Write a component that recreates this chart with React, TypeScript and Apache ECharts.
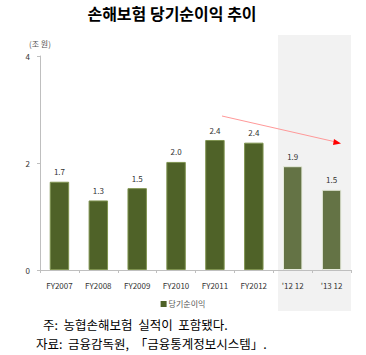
import React, { useEffect, useRef } from "react";
import * as echarts from "echarts";

const categories = ["FY2007", "FY2008", "FY2009", "FY2010", "FY2011", "FY2012", "'12 12", "'13 12"];
const profits = [1.65, 1.3, 1.53, 2.02, 2.43, 2.38, 1.94, 1.5];
const labels = ["1.7", "1.3", "1.5", "2.0", "2.4", "2.4", "1.9", "1.5"];
const darkColor = "#4F6228";
const lightColor = "#647345";

export default function App() {
  const ref = useRef<HTMLDivElement>(null);
  useEffect(() => {
    if (!ref.current) return;
    const chart = echarts.init(ref.current, undefined, { renderer: "svg" });
    const font = "'Noto Sans CJK KR', 'Noto Sans', sans-serif";
    chart.setOption({
      animation: false,
      textStyle: { fontFamily: font },
      graphic: [
        { type: "rect", z: -10, shape: { x: 278, y: 35, width: 73, height: 276 }, style: { fill: "#f2f2f2" } },
        { type: "text", x: 172, y: 4, style: { text: "손해보험 당기순이익 추이", font: `bold 16px ${font}`, fill: "#000", align: "center", lineHeight: 18 } },
        { type: "text", x: 29, y: 38, style: { text: "(조 원)", font: `8px ${font}`, fill: "#555", lineHeight: 10 } },
        { type: "line", shape: { x1: 222, y1: 116, x2: 336, y2: 142 }, style: { stroke: "#ff9999", lineWidth: 1 } },
        { type: "polygon", shape: { points: [[341, 143.5], [334, 139], [333, 145]] }, style: { fill: "#ff0000" } },
        { type: "text", x: 43, y: 317, style: { text: "주:  농협손해보험  실적이  포함됐다.", font: `12.5px ${font}`, fill: "#000", lineHeight: 14 } },
        { type: "text", x: 36, y: 336, style: { text: "자료:  금융감독원,  「금융통계정보시스템」.", font: `12.5px ${font}`, fill: "#000", lineHeight: 14 } },
      ],
      legend: {
        data: ["당기순이익"],
        top: 295,
        left: "center",
        itemWidth: 6,
        itemHeight: 6,
        itemGap: 2,
        icon: "rect",
        textStyle: { fontSize: 8, color: "#555", padding: [0, 0, 0, -3] },
      },
      grid: { left: 40, right: 15, top: 56, bottom: 85 },
      xAxis: {
        type: "category",
        data: categories,
        axisLine: { lineStyle: { color: "#bfbfbf" } },
        axisTick: { show: true, length: 3, lineStyle: { color: "#bfbfbf" } },
        axisLabel: { fontSize: 8, color: "#333", margin: 11, interval: 0 },
      },
      yAxis: {
        type: "value",
        min: 0,
        max: 4,
        interval: 2,
        axisLine: { show: true, lineStyle: { color: "#bfbfbf" } },
        axisTick: { show: true, length: 3, lineStyle: { color: "#bfbfbf" } },
        axisLabel: { fontSize: 8, color: "#333", margin: 10 },
        splitLine: { show: false },
      },
      series: [
        {
          name: "당기순이익",
          type: "bar",
          barWidth: "50%",
          itemStyle: { color: darkColor },
          data: profits.map((v, i) => ({
            value: v,
            itemStyle: {
              color: i >= 6 ? lightColor : darkColor,
              borderColor: i >= 6 ? "#e6ebdc" : "#7f9350",
              borderWidth: 1,
            },
          })),
          label: {
            show: true,
            position: "top",
            distance: 6,
            fontSize: 8,
            color: "#333",
            formatter: (p: any) => labels[p.dataIndex],
          },
        },
      ],
    });
    return () => chart.dispose();
  }, []);
  return <div ref={ref} style={{ width: 366, height: 355, position: "absolute", left: 0, top: 0 }} />;
}
